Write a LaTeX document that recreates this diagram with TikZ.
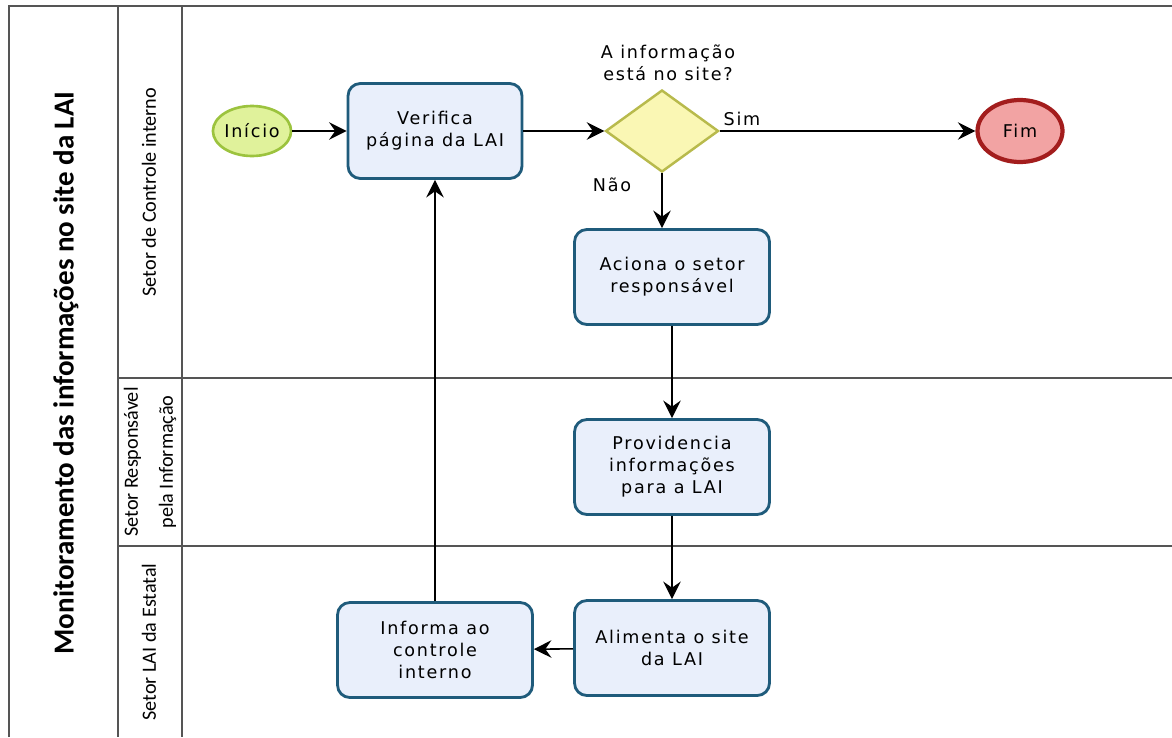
\documentclass[tikz,border=0pt]{standalone}
\usepackage{fontspec}
\setmainfont{DejaVu Sans}[LetterSpace=10]
\newfontfamily\lanefont{Carlito}
\usetikzlibrary{arrows.meta,shapes.geometric}
\definecolor{poolgray}{HTML}{555555}
\definecolor{taskfill}{HTML}{E9EFFB}
\definecolor{taskline}{HTML}{1F5B7B}
\definecolor{startfill}{HTML}{E0F29B}
\definecolor{startline}{HTML}{9CC33E}
\definecolor{endfill}{HTML}{F2A3A3}
\definecolor{endline}{HTML}{A31D1D}
\definecolor{gatefill}{HTML}{FAF7B4}
\definecolor{gateline}{HTML}{B8BA4C}
\begin{document}
\begin{tikzpicture}[x=0.02cm, y=-0.02cm,
  every node/.style={font=\fontsize{10}{12.5}\selectfont, align=center},
  pool/.style={draw=poolgray, line width=1.1pt},
  lanelbl/.style={rotate=90, font=\lanefont\fontsize{11.5}{20}\selectfont},
  task/.style={rectangle, rounded corners=7pt, draw=taskline, fill=taskfill, line width=1.6pt, minimum width=3.9cm, minimum height=1.9cm, inner sep=0pt},
  startev/.style={ellipse, draw=startline, fill=startfill, line width=1.5pt, minimum width=1.5cm, minimum height=1cm, inner sep=0pt},
  endev/.style={ellipse, draw=endline, fill=endfill, line width=2.4pt, minimum width=1.7cm, minimum height=1.24cm, inner sep=0pt},
  gate/.style={diamond, draw=gateline, fill=gatefill, line width=1.4pt, minimum width=2.26cm, minimum height=1.64cm, inner sep=0pt},
  flow/.style={draw=black, line width=0.9pt, -{Stealth[length=10pt, width=10pt, inset=3.5pt]}}]
\useasboundingbox (0,0) rectangle (1172,737);
\fill[white] (0,0) rectangle (1172,737);
% pool and lanes
\draw[pool] (9,737) -- (9,6) -- (1172,6);
\draw[pool] (118,6) -- (118,737);
\draw[pool] (182,6) -- (182,737);
\draw[pool] (118,378) -- (1172,378);
\draw[pool] (118,546) -- (1172,546);
\node[lanelbl, font=\lanefont\bfseries\fontsize{16.5}{20}\selectfont] (ttl) at (66,373) {Monitoramento das informações no site da LAI};
\node[lanelbl] (ln0) at (149,192) {Setor de Controle interno};
\node[lanelbl] (ln1) at (150,462) {Setor Responsável\\pela Informação};
\node[lanelbl] (ln2) at (149,642) {Setor LAI da Estatal};
% flow objects
\node[startev] (ev0) at (252,131) {Início};
\node[task, minimum width=3.48cm] (tsk0) at (435,131) {Verifica\\página da LAI};
\node[gate] (gw0) at (662,131) {};
\node (q0) at (668,63) {A informação\\está no site?};
\node (lb0) at (742,119) {Sim};
\node (lb1) at (612,185) {Não};
\node[endev] (ev1) at (1020,131) {Fim};
\node[task] (tsk1) at (672,277) {Aciona o setor\\responsável};
\node[task] (tsk2) at (672,467) {Providencia\\informações\\para a LAI};
\node[task] (tsk3) at (672,648) {Alimenta o site\\da LAI};
\node[task] (tsk4) at (435,650) {Informa ao\\controle\\interno};
% connectors
\draw[flow] (ev0) -- (tsk0);
\draw[flow] (tsk0) -- (gw0);
\draw[flow] (gw0) -- (ev1);
\draw[flow] (gw0) -- (gw0 |- tsk1.north);
\draw[flow] (tsk1) -- (tsk2);
\draw[flow] (tsk2) -- (tsk3);
\draw[flow] (tsk3) -- (tsk4);
\draw[flow] (tsk4) -- (tsk0);
\end{tikzpicture}
\end{document}
